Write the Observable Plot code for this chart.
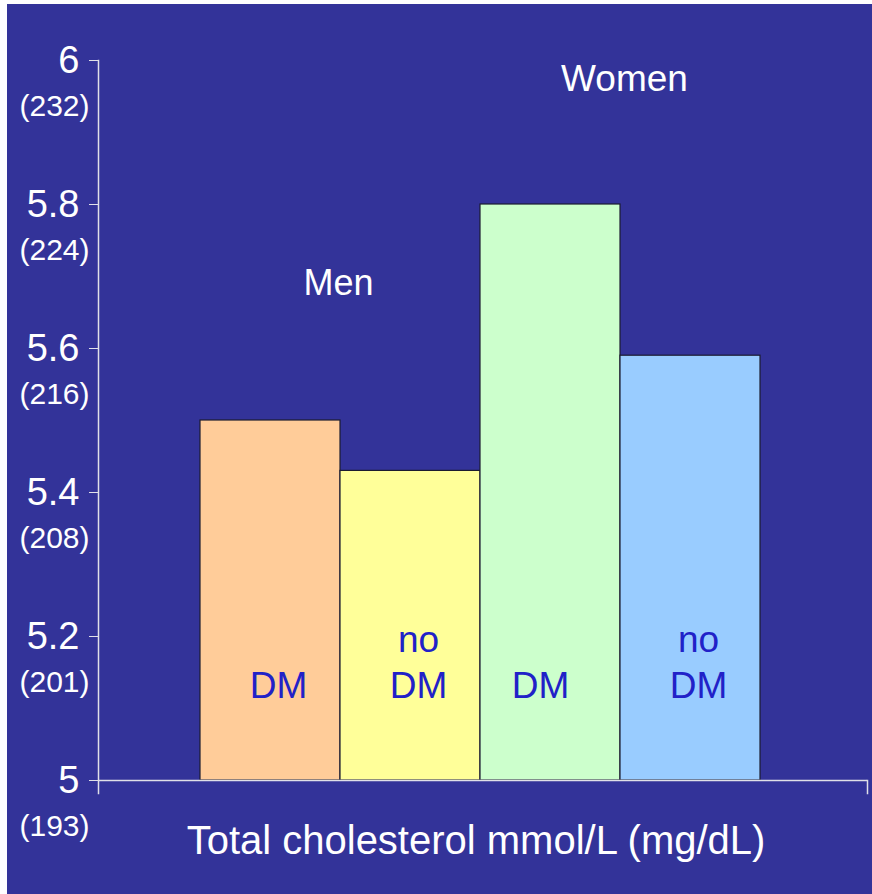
<!DOCTYPE html>
<html><head><meta charset="utf-8">
<script src="https://cdn.jsdelivr.net/npm/d3@7"></script>
<script src="https://cdn.jsdelivr.net/npm/@observablehq/plot@0.6"></script>
<style>
html,body{margin:0;padding:0;background:#fff;}
#chart{position:absolute;left:7px;top:4px;}
</style></head><body><div id="chart"></div>
<script>
// ---- data ----
const categories = ["Men DM", "Men no DM", "Women DM", "Women no DM"];
const cholesterol = [5.5, 5.43, 5.8, 5.59];
const barLabels = ["DM", "no\nDM", "DM", "no\nDM"];
const barColors = ["#FFCC99", "#FFFF99", "#CCFFCC", "#99CCFF"];
const groups = ["Men", "Women"];
const groupFirstBar = ["Men DM", "Women DM"];
const yTicks = [5, 5.2, 5.4, 5.6, 5.8, 6];
const mgTicks = ["(193)", "(201)", "(208)", "(216)", "(224)", "(232)"];
const xLabel = "Total cholesterol mmol/L (mg/dL)";

const data = categories.map((c, i) => ({category: c, value: cholesterol[i], label: barLabels[i], color: barColors[i]}));

const axisColor = "#e0e0e8";
const font = "'Liberation Sans', Arial, Helvetica, sans-serif";
const labelStyle = {x: "category", text: "label", frameAnchor: "bottom", lineAnchor: "bottom", dy: -83, lineHeight: 1.22, fontSize: 37, fill: "#2121c8"};

const chart = Plot.plot({
  width: 865, height: 890,
  marginLeft: 91, marginRight: 5, marginTop: 56, marginBottom: 114,
  style: {background: "#333399", color: "#fff", fontFamily: font, overflow: "visible"},
  x: {type: "band", domain: categories, paddingInner: 0, paddingOuter: 0.746, align: 0.49, axis: null},
  y: {domain: [yTicks[0], yTicks[yTicks.length - 1]], axis: null},
  color: {type: "identity"},
  marks: [
    Plot.barY(data, {x: "category", y1: yTicks[0], y2: "value", fill: d => d.color, stroke: "#1b1b30", strokeWidth: 1.2}),
    Plot.ruleY([yTicks[0]], {stroke: axisColor, strokeWidth: 1.5}),
    Plot.frame({anchor: "left", insetBottom: -13, stroke: axisColor, strokeWidth: 1.5}),
    Plot.frame({anchor: "right", insetTop: 720, insetBottom: -13, stroke: axisColor, strokeWidth: 1.5}),
    Plot.axisY(yTicks, {anchor: "left", label: null, tickSize: 9, tickPadding: 10, tickFormat: d => String(d), fontSize: 38, color: "#fff", stroke: axisColor}),
    Plot.axisY(yTicks, {anchor: "left", label: null, tickSize: 0, tickPadding: 9, tickFormat: d => mgTicks[yTicks.indexOf(d)], fontSize: 30, dy: 46, color: "#fff"}),
    Plot.text(data, {...labelStyle, filter: d => d.category !== "Women DM", dx: 8}),
    Plot.text(data, {...labelStyle, filter: d => d.category === "Women DM", dx: -10}),
    Plot.text([groups[0]], {x: () => groupFirstBar[0], text: d => d, dx: 68, frameAnchor: "top", lineAnchor: "bottom", dy: 234, fontSize: 36, fill: "#fff"}),
    Plot.text([groups[1]], {x: () => groupFirstBar[1], text: d => d, dx: 74, frameAnchor: "top", lineAnchor: "bottom", dy: 30, fontSize: 37, fill: "#fff"}),
    Plot.text([xLabel], {text: d => d, frameAnchor: "bottom", lineAnchor: "bottom", dy: 73, dx: -7, fontSize: 40, fill: "#fff"})
  ]
});
document.getElementById("chart").appendChild(chart);
</script>
</body></html>
